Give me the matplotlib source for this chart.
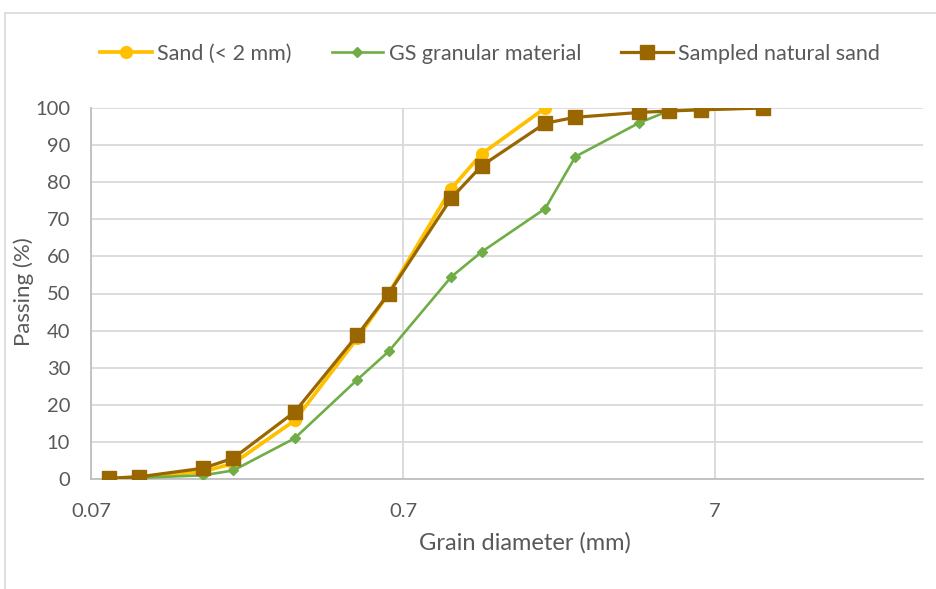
"""Grain size distribution curves: sand, GS granular material, sampled natural sand."""
import matplotlib.pyplot as plt
from matplotlib.lines import Line2D
from matplotlib.ticker import FixedLocator, NullLocator, FixedFormatter

plt.rcParams["font.family"] = ["Lato", "DejaVu Sans"]

# sieve sizes (mm) and percentage passing
sand_d = [0.08, 0.1, 0.16, 0.2, 0.315, 0.5, 0.63, 1.0, 1.25, 2.0]
sand_p = [0.2, 0.5, 2.0, 4.2, 15.8, 38.0, 50.0, 78.3, 87.6, 100.0]

gs_d = [0.08, 0.1, 0.16, 0.2, 0.315, 0.5, 0.63, 1.0, 1.25, 2.0, 2.5, 4.0, 5.0, 6.3, 10.0]
gs_p = [0.1, 0.3, 1.0, 2.3, 11.0, 26.8, 34.4, 54.5, 61.2, 72.9, 86.9, 96.0, 99.3, 99.6, 100.0]

nat_d = [0.08, 0.1, 0.16, 0.2, 0.315, 0.5, 0.63, 1.0, 1.25, 2.0, 2.5, 4.0, 5.0, 6.3, 10.0]
nat_p = [0.2, 0.6, 2.9, 5.6, 18.1, 38.8, 50.0, 75.7, 84.4, 95.9, 97.5, 98.8, 99.2, 99.5, 100.0]

x_ticks = [0.07, 0.7, 7]
x_tick_labels = ["0.07", "0.7", "7"]

TXT = "#595959"
GRID = "#D9D9D9"

fig = plt.figure(figsize=(9.37, 5.89), dpi=100)
ax = fig.add_axes([91 / 937, 110 / 589, 832 / 937, 371 / 589])

ax.plot(sand_d, sand_p, color="#FFC000", lw=2.7, marker="o", ms=8.5,
        label="Sand (< 2 mm)", zorder=3)
ax.plot(gs_d, gs_p, color="#70AD47", lw=1.9, marker="D", ms=5.5,
        label="GS granular material", zorder=4)
ax.plot(nat_d, nat_p, color="#996600", lw=2.3, marker="s", ms=9.5,
        label="Sampled natural sand", zorder=5)

ax.set_xscale("log")
ax.set_xlim(0.07, 32.5)
ax.set_ylim(0, 100)
ax.xaxis.set_major_locator(FixedLocator(x_ticks))
ax.xaxis.set_major_formatter(FixedFormatter(x_tick_labels))
ax.xaxis.set_minor_locator(NullLocator())
ax.set_yticks(range(0, 101, 10))

ax.grid(True, color=GRID, lw=1.3)
ax.set_axisbelow(True)
for side in ["top", "right"]:
    ax.spines[side].set_visible(False)
for side in ["left", "bottom"]:
    ax.spines[side].set_color("#BFBFBF")
    ax.spines[side].set_linewidth(1.3)
ax.tick_params(length=0, colors=TXT, labelsize=14.5)
ax.tick_params(axis="x", pad=17)
ax.tick_params(axis="y", pad=15)

ax.set_xlabel("Grain diameter (mm)", color=TXT, fontsize=17)
ax.xaxis.set_label_coords(0.522, -0.142)
ax.set_ylabel("Passing (%)", color=TXT, fontsize=16)
ax.yaxis.set_label_coords(-0.068, 0.504)

leg = fig.legend(loc="center", bbox_to_anchor=(0.523, 1 - 54 / 589), ncol=3,
                 frameon=False, fontsize=15.5, handlelength=2.4,
                 columnspacing=1.85, handletextpad=0.25)
for t in leg.get_texts():
    t.set_color(TXT)

# chart area border (top and left edges visible)
fig.add_artist(Line2D([5 / 937, 1], [1 - 13 / 589, 1 - 13 / 589],
                      transform=fig.transFigure, color=GRID, lw=1.2))
fig.add_artist(Line2D([5 / 937, 5 / 937], [0, 1 - 13 / 589],
                      transform=fig.transFigure, color=GRID, lw=1.2))

fig.savefig("out.png", dpi=100)
